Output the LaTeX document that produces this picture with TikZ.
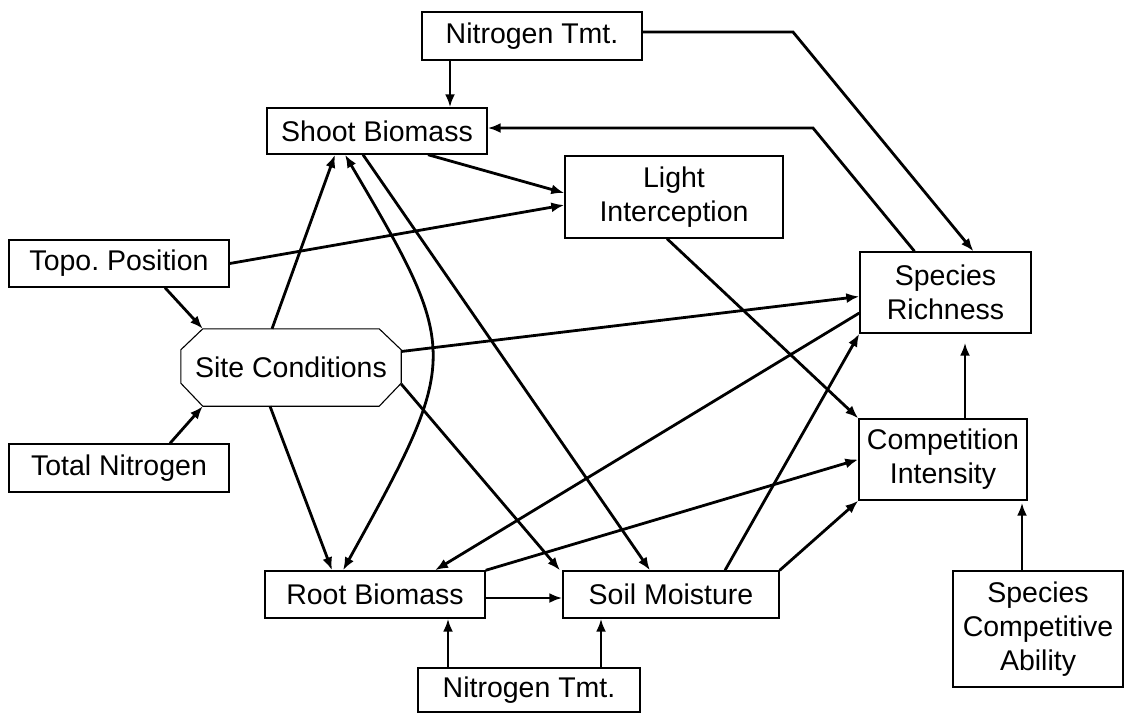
\documentclass[tikz,border=0pt]{standalone}
\usepackage{fontspec}
\setmainfont{Liberation Sans}
\usetikzlibrary{arrows.meta}
\frenchspacing
\begin{document}
\begin{tikzpicture}[x=1pt,y=-1pt,
  lbl/.style={align=center, inner sep=0pt, font=\fontsize{28.5}{34}\selectfont},
  box/.style={lbl, draw, line width=1.4pt},
  arr/.style={line width=2.8pt, -{Latex[length=13pt,width=10pt]}},
  darr/.style={line width=2.8pt, {Latex[length=13pt,width=10pt]}-{Latex[length=13pt,width=10pt]}},
]
\useasboundingbox[fill=white] (0,0) rectangle (1135,716);

% variables
\node[box, minimum width=220pt, minimum height=48pt] (nt1) at (532,36) {Nitrogen Tmt.};
\node[box, minimum width=220pt, minimum height=46pt] (sb) at (377,131) {Shoot Biomass};
\node[box, minimum width=218pt, minimum height=82pt] (li) at (674,197) {Light\\Interception};
\node[box, minimum width=220pt, minimum height=47pt] (tp) at (119,263.5) {Topo.\ Position};
\node[lbl, minimum width=220pt, minimum height=77pt] (sc) at (291,367.5) {Site Conditions};
\node[box, minimum width=220pt, minimum height=48pt] (tn) at (119,468) {Total Nitrogen};
\node[box, minimum width=220pt, minimum height=47pt] (rb) at (375,594.5) {Root Biomass};
\node[box, minimum width=216pt, minimum height=47pt] (sm) at (671,594.5) {Soil Moisture};
\node[box, minimum width=222pt, minimum height=44pt] (nt2) at (529,690) {Nitrogen Tmt.};
\node[box, minimum width=171pt, minimum height=81pt] (sr) at (945.5,292.5) {Species\\Richness};
\node[box, minimum width=168pt, minimum height=81pt] (ci) at (943,459.5) {Competition\\Intensity};
\node[box, minimum width=170pt, minimum height=116pt] (sca) at (1038,629) {Species\\Competitive\\Ability};

% octagonal outline of the site node
\draw[line width=1.1pt]
  ([xshift=22pt]sc.north west) -- ([xshift=-22pt]sc.north east)
  -- ([yshift=-21pt]sc.north east) -- ([yshift=23pt]sc.south east)
  -- ([xshift=-22pt]sc.south east) -- ([xshift=22pt]sc.south west)
  -- ([yshift=23pt]sc.south west) -- ([yshift=-21pt]sc.north west) -- cycle;

% bend points
\coordinate (k1) at (793,32);
\coordinate (k2) at (813,128);

% paths
\draw[arr] ([xshift=-82pt]nt1.south) -- ([xshift=73pt]sb.north);
\draw[arr] ([yshift=4pt]nt1.east) -- (k1) -- ([xshift=28pt]sr.north);
\draw[arr] ([xshift=-31pt]sr.north) -- (k2) -- ([yshift=3pt]sb.east);
\draw[arr] ([xshift=51pt]sb.south) -- ([yshift=4pt]li.west);
\draw[arr] (tp.east) -- ([yshift=-8pt]li.west);
\draw[arr] ([xshift=46pt]tp.south) -- ([xshift=22pt]sc.north west);
\draw[arr] ([xshift=51pt]tn.north) -- ([xshift=22pt]sc.south west);
\draw[arr] ([xshift=-19pt]sc.north) -- ([xshift=-42pt]sb.south);
\draw[darr] ([xshift=-32pt]sb.south) .. controls +(116,197) and +(118,-213) .. ([xshift=-32pt]rb.north);
\draw[arr] ([xshift=-14pt]sb.south) -- ([xshift=-21pt]sm.north);
\draw[arr] ([yshift=-16.5pt]sc.east) -- ([xshift=-111pt]sm.north);
\draw[arr] ([xshift=-21pt]sc.south) -- ([xshift=-43pt]rb.north);
\draw[arr] ([yshift=16pt]sc.east) -- ([yshift=-4pt]sr.west);
\draw[arr] ([yshift=-20.5pt]sr.west) -- ([xshift=60pt]rb.north);
\draw[arr] (rb.north east) -- (ci.west);
\draw[arr] ([yshift=-3.5pt]rb.east) -- ([yshift=-3.5pt]sm.west);
\draw[arr] ([xshift=-81pt]nt2.north) -- ([xshift=73pt]rb.south);
\draw[arr] ([xshift=72pt]nt2.north) -- ([xshift=-70pt]sm.south);
\draw[arr] ([xshift=54pt]sm.north) -- (sr.south west);
\draw[arr] (sm.north east) -- (ci.south west);
\draw[arr] ([xshift=-7pt]li.south) -- (ci.north west);
\draw[arr, shorten >=9pt] ([xshift=22pt]ci.north) -- ([xshift=19.5pt]sr.south);
\draw[arr, shorten >=2pt] ([xshift=-16pt]sca.north) -- ([xshift=-16pt]sca.north |- ci.south);
\end{tikzpicture}
\end{document}
